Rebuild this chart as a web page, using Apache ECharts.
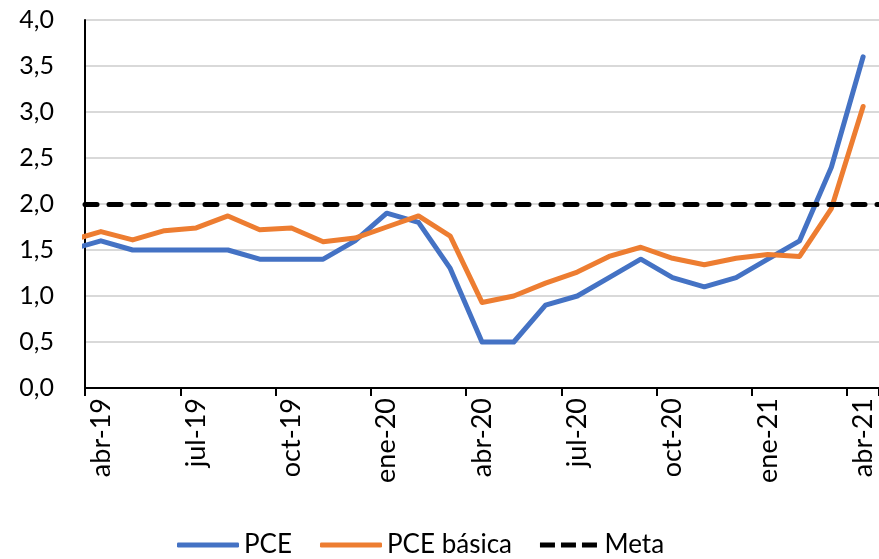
<!DOCTYPE html>
<html>
<head>
<meta charset="utf-8">
<script src="https://cdn.jsdelivr.net/npm/echarts@6/dist/echarts.min.js"></script>
<style>
  html, body { margin: 0; padding: 0; background: #fff; }
  #chart { width: 879px; height: 559px; }
</style>
</head>
<body>
<div id="chart"></div>
<script>
// meses: el primero (mar-19) queda fuera del eje, solo sirve para el tramo inicial
var leadMonth = 'mar-19';
var months = ['abr-19', 'may-19', 'jun-19', 'jul-19', 'ago-19', 'sep-19', 'oct-19', 'nov-19', 'dic-19',
    'ene-20', 'feb-20', 'mar-20', 'abr-20', 'may-20', 'jun-20', 'jul-20', 'ago-20', 'sep-20',
    'oct-20', 'nov-20', 'dic-20', 'ene-21', 'feb-21', 'mar-21', 'abr-21'];
var pce = [1.5, 1.6, 1.5, 1.5, 1.5, 1.5, 1.4, 1.4, 1.4, 1.6,
    1.9, 1.8, 1.3, 0.5, 0.5, 0.9, 1.0, 1.2, 1.4,
    1.2, 1.1, 1.2, 1.4, 1.6, 2.4, 3.6];
var pceBasica = [1.6, 1.7, 1.61, 1.71, 1.74, 1.87, 1.72, 1.74, 1.59, 1.63,
    1.75, 1.87, 1.65, 0.93, 1.0, 1.14, 1.26, 1.43, 1.53,
    1.41, 1.34, 1.41, 1.45, 1.43, 1.95, 3.06];
var meta = 2.0;
var yTicks = [0, 0.5, 1, 1.5, 2, 2.5, 3, 3.5, 4];

function pairs(arr) {
    // indice -1 = mes previo (mar-19)
    return arr.map(function (v, i) { return [i - 1, v]; });
}

var chart = echarts.init(document.getElementById('chart'));
var font = 'Lato, "Open Sans", sans-serif';
var dashIcon = 'path://M0,0h15v5h-15z M21,0h15v5h-15z M42,0h15v5h-15z';

var option = {
    animation: false,
    grid: { left: 85, right: -1, top: 20, bottom: 171, containLabel: false },
    legend: {
        top: 527,
        left: 172,
        itemWidth: 62,
        itemHeight: 5,
        itemGap: 28,
        textStyle: { fontFamily: font, fontSize: 26, color: '#000' },
        data: [
            { name: 'PCE', icon: 'roundRect' },
            { name: 'PCE básica', icon: 'roundRect' },
            { name: 'Meta', icon: dashIcon }
        ]
    },
    xAxis: [{
        type: 'value',
        min: -0.5,
        max: months.length - 0.5,
        interval: 3,
        axisLine: { lineStyle: { color: '#000', width: 2 } },
        axisTick: { show: true, length: 8, lineStyle: { color: '#000', width: 2 } },
        axisLabel: { show: false },
        splitLine: { show: false }
    }, {
        type: 'category',
        data: months,
        boundaryGap: true,
        position: 'bottom',
        offset: 0,
        axisLine: { show: false },
        axisTick: { show: false },
        axisLabel: {
            interval: 2,
            rotate: 90,
            margin: 10,
            fontFamily: font,
            fontSize: 27,
            color: '#000'
        }
    }],
    yAxis: {
        type: 'value',
        min: yTicks[0],
        max: yTicks[yTicks.length - 1],
        interval: 0.5,
        axisLine: { show: true, onZero: false, lineStyle: { color: '#000', width: 2 } },
        axisTick: { show: false },
        axisLabel: {
            margin: 31,
            fontFamily: font,
            fontSize: 25,
            color: '#000',
            formatter: function (v) { return v.toFixed(1).replace('.', ','); }
        },
        splitLine: { lineStyle: { color: '#d9d9d9', width: 2 } }
    },
    series: [{
        name: 'PCE',
        type: 'line',
        xAxisIndex: 0,
        data: pairs(pce),
        symbol: 'none',
        clip: true,
        color: '#4472C4',
        lineStyle: { width: 5, color: '#4472C4', cap: 'round', join: 'round' },
        z: 3
    }, {
        name: 'PCE básica',
        type: 'line',
        xAxisIndex: 0,
        data: pairs(pceBasica),
        symbol: 'none',
        clip: true,
        color: '#ED7D31',
        lineStyle: { width: 5, color: '#ED7D31', cap: 'round', join: 'round' },
        z: 4
    }, {
        name: 'Meta',
        type: 'line',
        xAxisIndex: 0,
        data: [],
        symbol: 'none',
        color: '#000',
        lineStyle: { width: 5, color: '#000', type: [12, 12], cap: 'round' },
        markLine: {
            silent: true,
            symbol: 'none',
            label: { show: false },
            lineStyle: { width: 5, color: '#000', type: [12, 12], cap: 'round' },
            data: [{ yAxis: meta }]
        },
        z: 5
    }]
};
chart.setOption(option);
</script>
</body>
</html>
